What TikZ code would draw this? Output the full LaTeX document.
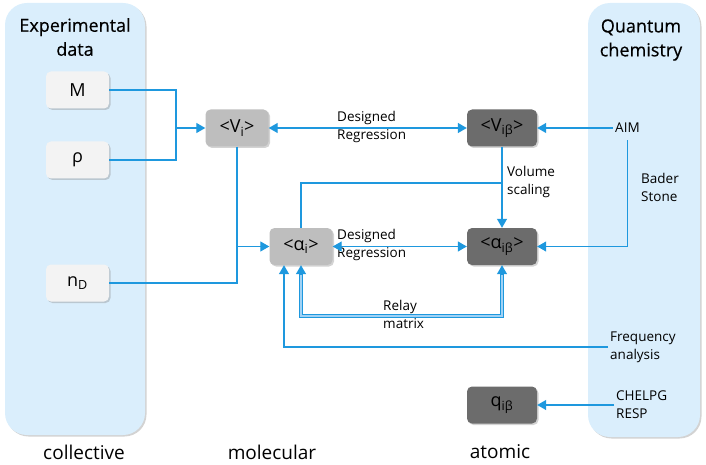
\documentclass[tikz,border=0pt]{standalone}
\usepackage{fontspec}
\setmainfont{Open Sans}
\newfontfamily\semib{Open Sans}[FakeBold=0.5]
\usetikzlibrary{arrows.meta,shadows,calc}
\definecolor{lineblue}{RGB}{30,152,222}
\definecolor{panelfill}{RGB}{218,238,252}
\definecolor{lightfill}{RGB}{243,243,243}
\definecolor{midfill}{RGB}{190,190,190}
\definecolor{darkfill}{RGB}{108,108,108}
\definecolor{relayfill}{RGB}{160,210,245}
\begin{document}
\begin{tikzpicture}[x=1pt,y=-1pt,
  panel/.style={fill=panelfill,draw=none,rounded corners=22pt,
    drop shadow={shadow xshift=1.5pt,shadow yshift=-1.5pt,opacity=0.35}},
  boxbase/.style={rounded corners=5pt,minimum width=63pt,minimum height=37pt,inner sep=0pt,
    font=\fontsize{18}{20}\selectfont,
    drop shadow={shadow xshift=1.5pt,shadow yshift=-1.5pt,opacity=0.35}},
  lbox/.style={boxbase,fill=lightfill},
  mbox/.style={boxbase,fill=midfill},
  dbox/.style={boxbase,fill=darkfill,minimum width=70pt},
  lab/.style={font=\fontsize{13.5}{18}\selectfont,align=left,inner sep=0pt,anchor=west},
  ttl/.style={font=\semib\fontsize{18}{24}\selectfont,align=center,inner sep=0pt},
  btm/.style={font=\fontsize{19}{24}\selectfont,inner sep=0pt},
  wire/.style={draw=lineblue,line width=1.2pt},
  arr/.style={wire,-{Triangle[length=9pt,width=10pt]}},
  darr/.style={wire,{Triangle[length=9pt,width=10pt]}-{Triangle[length=9pt,width=10pt]}},
]
\useasboundingbox (0,0) rectangle (706,465);
% panels
\path[panel] (5,3) rectangle (145,435);
\path[panel] (588,3) rectangle (700,437);
\node[ttl] (t1) at (75,37) {Experimental\\data};
\node[ttl] (t2) at (641,40) {Quantum\\chemistry};
% boxes
\node[lbox] (M) at (77.5,90) {M};
\node[lbox] (rho) at (77.5,160) {ρ};
\node[lbox] (nD) at (77.5,283) {n\textsubscript{D}};
\node[mbox] (Vi) at (237,128) {<V\textsubscript{i}>};
\node[mbox] (ai) at (301,246.5) {<α\textsubscript{i}>};
\node[dbox] (Vib) at (502,128) {<V\textsubscript{iβ}>};
\node[dbox] (aib) at (502,246.5) {<α\textsubscript{iβ}>};
\node[dbox] (qib) at (502,405) {q\textsubscript{iβ}};
% text labels
\node[lab] (dr1) at (337,127) {Designed\\Regression};
\node[lab] (dr2) at (337,245) {Designed\\Regression};
\node[lab] (vs) at (507,182) {Volume\\scaling};
\node[lab] (rm) at (383,314) {Relay\\matrix};
\node[lab,inner sep=2pt] (aim) at (613,128) {AIM};
\node[lab] (bs) at (641,187) {Bader\\Stone};
\node[lab,inner sep=2pt] (freq) at (608,347) {Frequency\\analysis};
\node[lab,inner sep=2pt] (chel) at (614,405) {CHELPG\\RESP};
\node[btm] (b1) at (84,452) {collective};
\node[btm] (b2) at (272,452) {molecular};
\node[btm] (b3) at (500,452) {atomic};
% connectors
\coordinate (j1) at (176,128);
\draw[wire] (M.east) -| (j1);
\draw[wire] (rho.east) -| (j1);
\draw[arr] (j1) -- (Vi.west);
\draw[wire] (Vi.south) |- (nD.east);
\draw[arr] (Vi.south |- ai.west) -- (ai.west);
\draw[darr] (Vi.east) -- (Vib.west);
\draw[darr] (ai.east) -- (aib.west);
\draw[arr] (aim.west) -- (Vib.east);
\draw[arr,shorten <=5pt] (aim.south) |- (aib.east);
\coordinate (vsj) at (502,183);
\draw[arr] (Vib.south) -- (aib.north);
\draw[wire] (ai.north) |- (vsj);
% relay matrix (double line)
\coordinate (r1) at ($(ai.south)+(0,9)$);
\coordinate (r2) at ($(aib.south)+(0,9)$);
\draw[draw=lineblue,line width=0.8pt,double=relayfill,double distance=1.8pt] (r1) -- (r1 |- 0,316) -| (r2);
\draw[arr] (r1) -- (ai.south);
\draw[arr] (r2) -- (aib.south);
% frequency analysis
\draw[arr] (freq.west) -| ($(ai.south)+(-17,0)$);
\draw[arr] (chel.west) -- (qib.east);
\end{tikzpicture}
\end{document}
